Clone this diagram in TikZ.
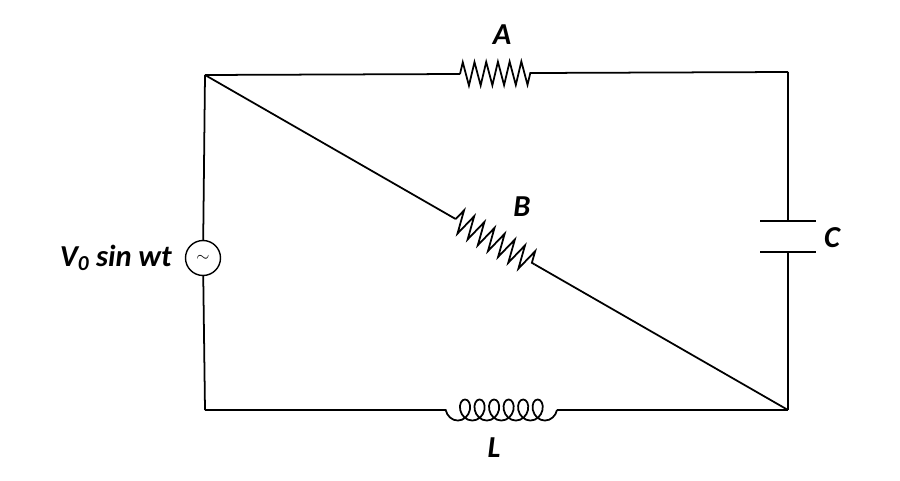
\documentclass[tikz,border=0pt]{standalone}
\usepackage{fontspec}
\setmainfont{Carlito}
\usetikzlibrary{decorations.pathmorphing,calc}
\begin{document}
\begin{tikzpicture}[x=0.03cm,y=-0.03cm,line width=1.5pt,
    lbl/.style={font=\fontsize{26}{30}\selectfont\bfseries\itshape},
    res/.style={decorate,decoration={zigzag,segment length=10,amplitude=10}},
    ind/.style={decorate,decoration={coil,segment length=12.4,amplitude=9,aspect=0.8}}]
\useasboundingbox (0,0) rectangle (900,481);
% corners
\coordinate (tl) at (205,75);
\coordinate (tr) at (788,72);
\coordinate (br) at (788,410);
\coordinate (bl) at (205,410);
% resistor A
\coordinate (a1) at (460,74);
\coordinate (a2) at (535,73);
\draw (tl) -- (a1);
\draw[res] (a1) -- (a2);
\draw (a2) -- (tr);
\node[lbl] (A) at (502,35) {A};
% capacitor C
\coordinate (c1) at (788,221);
\coordinate (c2) at (788,252);
\draw (tr) -- (c1);
\draw (760,221) -- (816,221);
\draw (760,252) -- (816,252);
\draw (c2) -- (br);
\node[lbl] (C) at (832,238) {C};
% inductor L
\coordinate (l1) at (557,410);
\coordinate (l2) at (435,410);
\draw (br) -- (l1);
\draw[ind] (l1) -- (l2);
\draw (l2) -- (bl);
\node[lbl] (L) at (494,448) {L};
% source
\node[draw,circle,minimum size=1.05cm,inner sep=0pt,line width=1.2pt] (src) at (203,258) {\Large$\sim$};
\draw (bl) -- (src);
\draw (src) -- (tl);
\node[lbl,left=7pt] (V) at (src.west) {V\textsubscript{0} sin wt};
% diagonal B
\coordinate (b1) at ($(tl)!0.43!(br)$);
\coordinate (b2) at ($(tl)!0.565!(br)$);
\draw (tl) -- (b1);
\draw[res] (b1) -- (b2);
\draw (b2) -- (br);
\node[lbl] (B) at (522,207) {B};
\end{tikzpicture}
\end{document}
